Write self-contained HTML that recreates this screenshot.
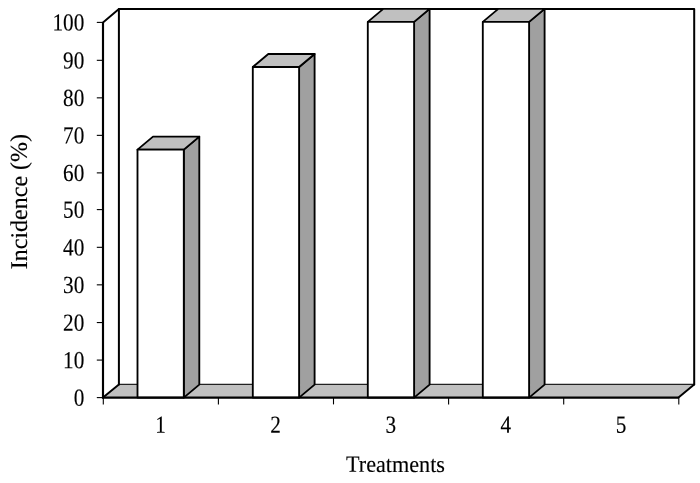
<!DOCTYPE html>
<html lang="en"><head><meta charset="utf-8"><title>Incidence by Treatments</title>
<style>html,body{margin:0;padding:0;background:#fff;}svg{display:block;}text{font-family:"Liberation Serif", "Times New Roman", serif;fill:#000;stroke:#000;stroke-width:0.12px;text-rendering:geometricPrecision;}</style></head>
<body>
<svg width="700" height="483" viewBox="0 0 700 483">
<rect width="700" height="483" fill="#fff"/>
<polygon points="103,397.6 118.9,384.4 694.2,384.4 678.5,397.6" fill="#c0c0c0"/>
<line x1="118.9" y1="384.4" x2="694.2" y2="384.4" stroke="#222" stroke-width="1.4" stroke-linecap="butt"/>
<path d="M118.9,384.4V9.1H694.2V384.4" fill="none" stroke="#000" stroke-width="2.0" stroke-linejoin="round" stroke-linecap="round"/>
<line x1="103" y1="22.4" x2="118.9" y2="9.1" stroke="#000" stroke-width="1.9" stroke-linecap="round"/>
<line x1="103" y1="397.6" x2="118.9" y2="384.4" stroke="#000" stroke-width="1.9" stroke-linecap="round"/>
<line x1="678.5" y1="397.6" x2="694.2" y2="384.4" stroke="#000" stroke-width="1.9" stroke-linecap="round"/>
<polygon points="183.8,397.6 199.3,384.6 199.3,136.64 183.8,149.64" fill="#a0a0a0" stroke="#000" stroke-width="1.85" stroke-linejoin="round" stroke-linecap="round"/>
<polygon points="137.5,149.64 153,136.64 199.3,136.64 183.8,149.64" fill="#c0c0c0" stroke="#000" stroke-width="1.85" stroke-linejoin="round" stroke-linecap="round"/>
<rect x="137.5" y="149.64" width="46.3" height="247.96" fill="#fff" stroke="#000" stroke-width="1.85" stroke-linejoin="round" stroke-linecap="round"/>
<polygon points="299.1,397.6 314.6,384.6 314.6,53.98 299.1,66.98" fill="#a0a0a0" stroke="#000" stroke-width="1.85" stroke-linejoin="round" stroke-linecap="round"/>
<polygon points="252.8,66.98 268.3,53.98 314.6,53.98 299.1,66.98" fill="#c0c0c0" stroke="#000" stroke-width="1.85" stroke-linejoin="round" stroke-linecap="round"/>
<rect x="252.8" y="66.98" width="46.3" height="330.62" fill="#fff" stroke="#000" stroke-width="1.85" stroke-linejoin="round" stroke-linecap="round"/>
<polygon points="414.1,397.6 429.6,384.6 429.6,8.9 414.1,21.9" fill="#a0a0a0" stroke="#000" stroke-width="1.85" stroke-linejoin="round" stroke-linecap="round"/>
<polygon points="367.8,21.9 383.3,8.9 429.6,8.9 414.1,21.9" fill="#c0c0c0" stroke="#000" stroke-width="1.85" stroke-linejoin="round" stroke-linecap="round"/>
<rect x="367.8" y="21.9" width="46.3" height="375.7" fill="#fff" stroke="#000" stroke-width="1.85" stroke-linejoin="round" stroke-linecap="round"/>
<polygon points="529.1,397.6 544.6,384.6 544.6,8.9 529.1,21.9" fill="#a0a0a0" stroke="#000" stroke-width="1.85" stroke-linejoin="round" stroke-linecap="round"/>
<polygon points="482.8,21.9 498.3,8.9 544.6,8.9 529.1,21.9" fill="#c0c0c0" stroke="#000" stroke-width="1.85" stroke-linejoin="round" stroke-linecap="round"/>
<rect x="482.8" y="21.9" width="46.3" height="375.7" fill="#fff" stroke="#000" stroke-width="1.85" stroke-linejoin="round" stroke-linecap="round"/>
<path d="M103,22.4V397.6H678.5" fill="none" stroke="#000" stroke-width="2.15" stroke-linejoin="miter"/>
<line x1="96.8" y1="397.6" x2="103" y2="397.6" stroke="#000" stroke-width="1.1" stroke-linecap="butt"/>
<text transform="translate(84.3,405.75) rotate(0.05) scale(1,1.16)" font-size="21.2" text-anchor="end">0</text>
<line x1="96.8" y1="360.08" x2="103" y2="360.08" stroke="#000" stroke-width="1.1" stroke-linecap="butt"/>
<text transform="translate(84.3,368.23) rotate(0.05) scale(1,1.16)" font-size="21.2" text-anchor="end">10</text>
<line x1="96.8" y1="322.56" x2="103" y2="322.56" stroke="#000" stroke-width="1.1" stroke-linecap="butt"/>
<text transform="translate(84.3,330.71) rotate(0.05) scale(1,1.16)" font-size="21.2" text-anchor="end">20</text>
<line x1="96.8" y1="284.84" x2="103" y2="284.84" stroke="#000" stroke-width="1.1" stroke-linecap="butt"/>
<text transform="translate(84.3,292.99) rotate(0.05) scale(1,1.16)" font-size="21.2" text-anchor="end">30</text>
<line x1="96.8" y1="247.32" x2="103" y2="247.32" stroke="#000" stroke-width="1.1" stroke-linecap="butt"/>
<text transform="translate(84.3,255.47) rotate(0.05) scale(1,1.16)" font-size="21.2" text-anchor="end">40</text>
<line x1="96.8" y1="209.6" x2="103" y2="209.6" stroke="#000" stroke-width="1.1" stroke-linecap="butt"/>
<text transform="translate(84.3,217.75) rotate(0.05) scale(1,1.16)" font-size="21.2" text-anchor="end">50</text>
<line x1="96.8" y1="172.88" x2="103" y2="172.88" stroke="#000" stroke-width="1.1" stroke-linecap="butt"/>
<text transform="translate(84.3,181.03) rotate(0.05) scale(1,1.16)" font-size="21.2" text-anchor="end">60</text>
<line x1="96.8" y1="135.36" x2="103" y2="135.36" stroke="#000" stroke-width="1.1" stroke-linecap="butt"/>
<text transform="translate(84.3,143.51) rotate(0.05) scale(1,1.16)" font-size="21.2" text-anchor="end">70</text>
<line x1="96.8" y1="97.84" x2="103" y2="97.84" stroke="#000" stroke-width="1.1" stroke-linecap="butt"/>
<text transform="translate(84.3,105.99) rotate(0.05) scale(1,1.16)" font-size="21.2" text-anchor="end">80</text>
<line x1="96.8" y1="60.32" x2="103" y2="60.32" stroke="#000" stroke-width="1.1" stroke-linecap="butt"/>
<text transform="translate(84.3,68.47) rotate(0.05) scale(1,1.16)" font-size="21.2" text-anchor="end">90</text>
<line x1="96.8" y1="22.4" x2="103" y2="22.4" stroke="#000" stroke-width="1.1" stroke-linecap="butt"/>
<text transform="translate(84.3,30.55) rotate(0.05) scale(1,1.16)" font-size="21.2" text-anchor="end">100</text>
<line x1="103.3" y1="397.6" x2="103.3" y2="404.4" stroke="#000" stroke-width="1.1" stroke-linecap="butt"/>
<line x1="218.4" y1="397.6" x2="218.4" y2="404.4" stroke="#000" stroke-width="1.1" stroke-linecap="butt"/>
<line x1="333.5" y1="397.6" x2="333.5" y2="404.4" stroke="#000" stroke-width="1.1" stroke-linecap="butt"/>
<line x1="448.6" y1="397.6" x2="448.6" y2="404.4" stroke="#000" stroke-width="1.1" stroke-linecap="butt"/>
<line x1="563.7" y1="397.6" x2="563.7" y2="404.4" stroke="#000" stroke-width="1.1" stroke-linecap="butt"/>
<line x1="678.8" y1="397.6" x2="678.8" y2="404.4" stroke="#000" stroke-width="1.1" stroke-linecap="butt"/>
<text transform="translate(160.55,432.75) rotate(0.05) scale(1,1.16)" font-size="21.2" text-anchor="middle">1</text>
<text transform="translate(275.65,432.75) rotate(0.05) scale(1,1.16)" font-size="21.2" text-anchor="middle">2</text>
<text transform="translate(390.75,432.75) rotate(0.05) scale(1,1.16)" font-size="21.2" text-anchor="middle">3</text>
<text transform="translate(505.85,432.75) rotate(0.05) scale(1,1.16)" font-size="21.2" text-anchor="middle">4</text>
<text transform="translate(620.95,432.75) rotate(0.05) scale(1,1.16)" font-size="21.2" text-anchor="middle">5</text>
<text transform="translate(395.5,471.9) rotate(0.05) scale(1,1.05)" font-size="22.2" text-anchor="middle">Treatments</text>
<text transform="translate(26.9,201.6) rotate(-90.05)" font-size="24" text-anchor="middle">Incidence (%)</text>
</svg>
</body></html>
